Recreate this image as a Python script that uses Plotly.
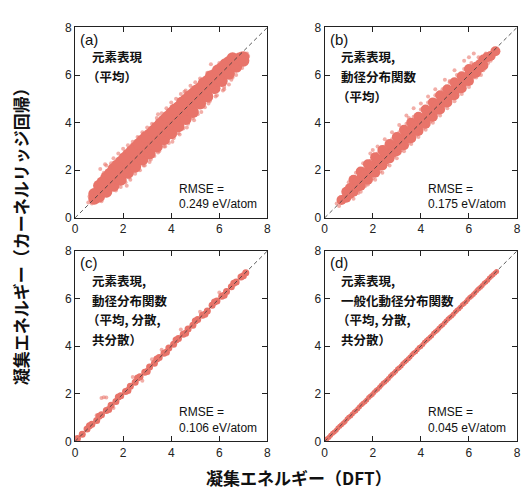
import plotly.graph_objects as go

W, H = 525, 497

# ---------------- data ----------------
# panel (a): element representation (mean)
a_core_x = [0.8, 0.8, 1.0, 1.0, 1.0, 1.3, 1.3, 1.3, 1.6, 1.6, 1.6, 1.9, 1.9, 1.9,
            2.2, 2.2, 2.2, 2.5, 2.5, 2.5, 2.8, 2.8, 2.8, 3.1, 3.1, 3.1, 3.4, 3.4, 3.4,
            3.7, 3.7, 3.7, 4.0, 4.0, 4.0, 4.3, 4.3, 4.3, 4.6, 4.6, 4.6, 4.9, 4.9, 4.9,
            5.2, 5.2, 5.2, 5.5, 5.5, 5.5, 5.8, 5.8, 5.8, 6.1, 6.1, 6.1, 6.4, 6.4, 6.4,
            6.7, 6.7, 7.0, 7.0, 1.15, 1.45, 1.75, 2.05, 2.35, 2.65, 2.95, 3.25, 3.55,
            3.85, 4.15, 4.45, 4.75, 5.05, 5.35, 5.65, 5.95, 6.25, 6.55, 6.85,
            1.15, 1.45, 1.75, 2.05, 2.35, 2.65, 2.95, 3.25, 3.55, 3.85, 4.15, 4.45,
            4.75, 5.05, 5.35, 5.65, 5.95, 6.25, 6.55]
a_core_y = [0.8, 1.0, 0.9, 1.1, 1.35, 1.1, 1.4, 1.7, 1.35, 1.7, 2.05, 1.6, 1.95, 2.35,
            1.9, 2.25, 2.65, 2.15, 2.55, 2.95, 2.45, 2.85, 3.25, 2.7, 3.1, 3.5, 3.0, 3.4, 3.8,
            3.3, 3.7, 4.1, 3.55, 3.95, 4.4, 3.85, 4.25, 4.65, 4.15, 4.55, 4.95, 4.45, 4.85, 5.2,
            4.8, 5.15, 5.45, 5.1, 5.45, 5.75, 5.45, 5.75, 6.0, 5.75, 6.05, 6.3, 6.05, 6.35, 6.55,
            6.35, 6.6, 6.6, 6.75, 1.2, 1.55, 1.85, 2.1, 2.4, 2.7, 3.0, 3.3, 3.6,
            3.9, 4.2, 4.5, 4.8, 5.05, 5.35, 5.65, 5.9, 6.2, 6.45, 6.7,
            1.5, 1.85, 2.2, 2.5, 2.8, 3.1, 3.4, 3.65, 3.95, 4.25, 4.55, 4.85,
            5.1, 5.35, 5.65, 5.95, 6.2, 6.45, 6.7]
a_pts_x = [0.55, 0.6, 0.7, 0.9, 1.0, 1.1, 1.2, 1.3, 1.4, 1.5, 1.6, 1.7, 1.8, 1.9, 2.0, 2.1,
           2.2, 2.3, 2.4, 2.5, 2.6, 2.7, 2.8, 2.9, 3.0, 3.1, 3.2, 3.3, 3.4, 3.5, 3.6, 3.7,
           3.8, 3.9, 4.0, 4.1, 4.2, 4.3, 4.4, 4.5, 4.6, 4.7, 4.8, 4.9, 5.0, 5.1, 5.2, 5.4,
           5.5, 5.6, 5.8, 5.9, 6.0, 6.2, 6.3, 6.5, 6.6, 6.8, 6.9, 7.1, 7.2, 6.4, 6.7, 1.05,
           1.25, 2.15, 3.45, 4.55, 5.65, 6.15,
           0.75, 0.95, 1.2, 1.35, 1.55, 1.65, 1.85, 1.95, 2.15, 2.25, 2.45, 2.55, 2.75, 2.85,
           3.05, 3.15, 3.35, 3.45, 3.65, 3.75, 3.95, 4.05, 4.25, 4.35, 4.55, 4.65, 4.85, 4.95,
           5.15, 5.25, 5.45, 5.55, 5.75, 5.85, 6.05, 6.2, 6.35, 6.55, 6.75, 6.95, 7.15, 7.05]
a_pts_y = [0.65, 0.9, 0.6, 1.3, 1.6, 0.7, 1.9, 2.2, 1.0, 2.3, 2.5, 1.15, 2.7, 1.3, 2.9, 1.5,
           3.05, 1.6, 3.2, 1.85, 3.4, 2.0, 3.6, 2.2, 3.8, 2.35, 3.95, 2.6, 4.2, 2.8, 4.4, 3.0,
           4.6, 3.15, 4.85, 3.35, 5.0, 3.55, 5.2, 3.75, 5.35, 3.95, 5.55, 4.2, 5.7, 4.35, 5.85, 4.65,
           6.1, 4.9, 6.3, 5.15, 6.5, 5.5, 6.65, 5.8, 6.8, 6.2, 6.9, 6.6, 6.8, 5.6, 6.0, 2.05,
           2.25, 1.35, 4.35, 5.3, 6.45, 5.35,
           1.15, 0.7, 1.55, 0.95, 2.0, 1.2, 2.45, 1.5, 2.75, 1.7, 3.0, 2.0, 3.3, 2.2,
           3.6, 2.45, 3.9, 2.75, 4.2, 3.0, 4.55, 3.2, 4.8, 3.5, 5.1, 3.8, 5.4, 4.1,
           5.6, 4.45, 5.9, 4.8, 6.2, 5.1, 6.45, 5.4, 6.6, 5.9, 6.75, 6.3, 6.9, 6.5]

# panel (b): element representation + RDF (mean)
b_core_x = [0.7, 0.9, 0.9, 1.2, 1.2, 1.2, 1.5, 1.5, 1.5, 1.8, 1.8, 1.8, 2.1, 2.1, 2.1,
            2.4, 2.4, 2.4, 2.7, 2.7, 2.7, 3.0, 3.0, 3.0, 3.3, 3.3, 3.3, 3.6, 3.6, 3.6,
            3.9, 3.9, 3.9, 4.2, 4.2, 4.2, 4.5, 4.5, 4.5, 4.8, 4.8, 4.8, 5.1, 5.1, 5.1,
            5.4, 5.4, 5.4, 5.7, 5.7, 5.7, 6.0, 6.0, 6.0, 6.3, 6.3, 6.6, 6.6, 6.9, 7.1,
            1.05, 1.35, 1.65, 1.95, 2.25, 2.55, 2.85, 3.15, 3.45, 3.75, 4.05, 4.35, 4.65,
            4.95, 5.25, 5.55, 5.85, 6.15, 6.45, 6.75,
            1.05, 1.35, 1.65, 1.95, 2.25, 2.55, 2.85, 3.15, 3.45, 3.75, 4.05, 4.35, 4.65,
            4.95, 5.25, 5.55, 5.85, 6.15, 6.45]
b_core_y = [0.75, 0.85, 1.1, 1.1, 1.35, 1.6, 1.35, 1.65, 1.95, 1.6, 1.95, 2.25, 1.9, 2.25, 2.55,
            2.2, 2.5, 2.85, 2.5, 2.8, 3.1, 2.8, 3.1, 3.4, 3.05, 3.4, 3.7, 3.35, 3.7, 4.0,
            3.65, 3.95, 4.25, 3.95, 4.25, 4.55, 4.25, 4.55, 4.85, 4.55, 4.85, 5.15, 4.85, 5.15, 5.4,
            5.15, 5.4, 5.7, 5.45, 5.7, 5.95, 5.75, 6.0, 6.25, 6.1, 6.35, 6.4, 6.65, 6.8, 7.0,
            1.25, 1.5, 1.8, 2.1, 2.4, 2.65, 2.95, 3.25, 3.55, 3.85, 4.1, 4.4, 4.7,
            5.0, 5.3, 5.55, 5.85, 6.1, 6.45, 6.75,
            1.0, 1.3, 1.6, 1.9, 2.2, 2.45, 2.75, 3.05, 3.35, 3.65, 3.95, 4.25, 4.55,
            4.85, 5.15, 5.45, 5.75, 6.05, 6.3]
b_pts_x = [0.5, 0.6, 1.0, 1.3, 1.6, 1.9, 2.2, 2.5, 2.8, 3.1, 3.4, 3.7, 4.0, 4.3, 4.6, 5.0,
           5.4, 5.8, 6.2, 1.2, 1.5, 1.8, 2.1, 2.4, 2.7, 3.0, 3.3, 3.6, 3.9, 4.2, 4.5, 4.8,
           5.1, 5.4, 5.7, 6.0, 6.3, 6.6, 6.9, 7.1, 6.0, 6.5, 7.2, 2.0, 3.5, 5.2,
           0.8, 1.0, 1.3, 1.4, 1.6, 1.7, 1.9, 2.0, 2.2, 2.3, 2.5, 2.6, 2.8, 2.9, 3.1, 3.2,
           3.4, 3.5, 3.7, 3.8, 4.0, 4.1, 4.3, 4.4, 4.6, 4.7, 4.9, 5.0, 5.2, 5.3, 5.5, 5.6,
           5.8, 5.9, 6.1, 6.2, 6.4, 6.5, 6.7, 6.8, 7.0]
b_pts_y = [0.6, 0.5, 1.5, 1.9, 2.3, 2.7, 3.0, 3.3, 3.6, 3.9, 4.3, 4.6, 4.8, 5.1, 5.4, 5.8,
           6.2, 6.6, 6.9, 0.8, 1.1, 1.4, 1.6, 1.9, 2.2, 2.5, 2.8, 3.1, 3.4, 3.7, 4.0, 4.3,
           4.6, 4.9, 5.2, 5.5, 5.9, 6.2, 6.6, 7.1, 6.75, 6.0, 7.0, 2.85, 4.2, 5.75,
           1.1, 0.8, 1.7, 1.05, 2.05, 1.35, 2.4, 1.65, 2.7, 1.95, 3.0, 2.25, 3.3, 2.6, 3.6, 2.85,
           3.95, 3.15, 4.25, 3.45, 4.55, 3.75, 4.85, 4.05, 5.15, 4.4, 5.4, 4.7, 5.7, 5.0, 6.0, 5.3,
           6.25, 5.6, 6.5, 5.9, 6.75, 6.2, 6.9, 6.5, 7.05]

# panel (c): element representation + RDF (mean, variance, covariance)
c_core_x = [0.1, 0.3, 0.5, 0.7, 0.9, 1.1, 1.3, 1.5, 1.7, 1.9, 2.1, 2.3, 2.5, 2.7, 2.9,
            3.1, 3.3, 3.5, 3.7, 3.9, 4.1, 4.3, 4.5, 4.7, 4.9, 5.1, 5.3, 5.5, 5.7, 5.9,
            6.1, 6.3, 6.5, 6.7, 6.9, 7.1, 0.6, 1.0, 1.4, 1.8, 2.2, 2.6, 3.0, 3.4, 3.8,
            4.2, 4.6, 5.0, 5.4, 5.8, 6.2, 6.6, 7.0]
c_core_y = [0.12, 0.3, 0.52, 0.72, 0.88, 1.12, 1.3, 1.52, 1.68, 1.92, 2.1, 2.32, 2.48, 2.72, 2.9,
            3.12, 3.28, 3.52, 3.7, 3.92, 4.08, 4.32, 4.5, 4.72, 4.88, 5.12, 5.3, 5.48, 5.72, 5.9,
            6.1, 6.3, 6.5, 6.7, 6.9, 7.08, 0.66, 1.06, 1.34, 1.86, 2.14, 2.66, 2.94, 3.46, 3.74,
            4.26, 4.54, 5.06, 5.34, 5.86, 6.14, 6.64, 6.96]
c_pts_x = [1.1, 1.2, 1.3, 0.9, 2.4, 3.2, 4.4, 5.2, 6.0, 1.6, 2.8, 3.6]
c_pts_y = [1.82, 1.85, 1.84, 1.1, 2.7, 3.45, 4.7, 5.45, 6.25, 1.4, 2.55, 3.85]

# panel (d): element representation + generalized RDF (mean, variance, covariance)
d_core_x = [0.1, 0.25, 0.4, 0.55, 0.7, 0.85, 1.0, 1.15, 1.3, 1.45, 1.6, 1.75, 1.9, 2.05,
            2.2, 2.35, 2.5, 2.65, 2.8, 2.95, 3.1, 3.25, 3.4, 3.55, 3.7, 3.85, 4.0, 4.15,
            4.3, 4.45, 4.6, 4.75, 4.9, 5.05, 5.2, 5.35, 5.5, 5.65, 5.8, 5.95, 6.1, 6.25,
            6.4, 6.55, 6.7, 6.85, 7.0, 7.15,
            0.18, 0.33, 0.48, 0.63, 0.78, 0.93, 1.08, 1.23, 1.38, 1.53, 1.68, 1.83, 1.98,
            2.13, 2.28, 2.43, 2.58, 2.73, 2.88, 3.03, 3.18, 3.33, 3.48, 3.63, 3.78, 3.93,
            4.08, 4.23, 4.38, 4.53, 4.68, 4.83, 4.98, 5.13, 5.28, 5.43, 5.58, 5.73, 5.88,
            6.03, 6.18, 6.33, 6.48, 6.63, 6.78, 6.93, 7.08]
d_core_y = [0.11, 0.26, 0.39, 0.56, 0.7, 0.84, 1.01, 1.15, 1.29, 1.46, 1.6, 1.74, 1.91, 2.05,
            2.19, 2.36, 2.5, 2.64, 2.81, 2.95, 3.09, 3.26, 3.4, 3.54, 3.71, 3.85, 3.99, 4.16,
            4.3, 4.44, 4.61, 4.75, 4.89, 5.06, 5.2, 5.34, 5.51, 5.65, 5.79, 5.96, 6.1, 6.24,
            6.41, 6.55, 6.69, 6.86, 7.0, 7.14,
            0.17, 0.34, 0.47, 0.64, 0.77, 0.94, 1.07, 1.24, 1.37, 1.54, 1.67, 1.84, 1.97,
            2.14, 2.27, 2.44, 2.57, 2.74, 2.87, 3.04, 3.17, 3.34, 3.47, 3.64, 3.77, 3.94,
            4.07, 4.24, 4.37, 4.54, 4.67, 4.84, 4.97, 5.14, 5.27, 5.44, 5.57, 5.74, 5.87,
            6.04, 6.17, 6.34, 6.47, 6.64, 6.77, 6.94, 7.07]

panel_labels = ["(a)", "(b)", "(c)", "(d)"]
panel_texts = [
    ["元素表現", "（平均）"],
    ["元素表現,", "動径分布関数", "（平均）"],
    ["元素表現,", "動径分布関数", "（平均, 分散,", "共分散）"],
    ["元素表現,", "一般化動径分布関数", "（平均, 分散,", "共分散）"],
]
rmse_values = ["0.249", "0.175", "0.106", "0.045"]
tick_vals = [0, 2, 4, 6, 8]
x_title = "凝集エネルギー（DFT）"
y_title = "凝集エネルギー（カーネルリッジ回帰）"

# ---------------- layout helpers ----------------
def px(x):
    return x / W

def py(y):
    return 1 - y / H

# panel pixel boxes: (left, right, top, bottom)
boxes = [(73, 268, 21, 217), (326, 521, 21, 217), (73, 268, 251, 447), (326, 521, 251, 447)]

CORE = "rgb(232,116,106)"
PTS = "rgba(234,120,110,0.6)"

fig = go.Figure()
data = [
    (a_core_x, a_core_y, a_pts_x, a_pts_y, 12, 4),
    (b_core_x, b_core_y, b_pts_x, b_pts_y, 10, 4),
    (c_core_x, c_core_y, c_pts_x, c_pts_y, 7, 4),
    (d_core_x, d_core_y, [], [], 5, 3),
]

FONT_JP = "Noto Sans CJK JP"
FONT_LAT = "Liberation Sans, Arial, sans-serif"

annotations = []
for i, (cx, cy, sx, sy, csize, ssize) in enumerate(data):
    xa = "x" if i == 0 else f"x{i+1}"
    ya = "y" if i == 0 else f"y{i+1}"
    if sx:
        fig.add_trace(go.Scatter(x=sx, y=sy, mode="markers", xaxis=xa, yaxis=ya,
                                 marker=dict(size=ssize, color=PTS, line=dict(width=0)),
                                 showlegend=False, hoverinfo="skip"))
    fig.add_trace(go.Scatter(x=cx, y=cy, mode="markers", xaxis=xa, yaxis=ya,
                             marker=dict(size=csize, color=CORE, line=dict(width=0)),
                             showlegend=False, hoverinfo="skip"))
    # diagonal dashed reference line
    fig.add_trace(go.Scatter(x=[tick_vals[0], tick_vals[-1]], y=[tick_vals[0], tick_vals[-1]],
                             mode="lines", xaxis=xa, yaxis=ya,
                             line=dict(color="rgba(60,60,60,0.85)", width=1, dash="4px,3px"),
                             showlegend=False, hoverinfo="skip"))
    l, r, t, b = boxes[i]
    axis_common = dict(range=[0, 8], tickvals=tick_vals, ticks="inside", ticklen=5,
                       tickwidth=1, tickcolor="#222", showline=True, linecolor="#222",
                       linewidth=1, mirror="ticks", showgrid=False, zeroline=False,
                       tickfont=dict(family=FONT_LAT, size=12, color="#222"))
    key_x = "xaxis" if i == 0 else f"xaxis{i+1}"
    key_y = "yaxis" if i == 0 else f"yaxis{i+1}"
    fig.update_layout(**{
        key_x: dict(domain=[px(l), px(r)], anchor=ya, **axis_common),
        key_y: dict(domain=[py(b), py(t)], anchor=xa, **axis_common),
    })
    # panel label
    annotations.append(dict(x=px(l + 3), y=py(t + 12), xref="paper", yref="paper",
                            text=panel_labels[i], showarrow=False, xanchor="left",
                            yanchor="middle", font=dict(family=FONT_LAT, size=15, color="#111")))
    # descriptive text lines
    for j, line in enumerate(panel_texts[i]):
        xoff = 15 if not line.startswith("（") else 10
        annotations.append(dict(x=px(l + xoff), y=py(t + 30 + 20.5 * j), xref="paper",
                                yref="paper", text=f"<b>{line}</b>", showarrow=False,
                                xanchor="left", yanchor="middle",
                                font=dict(family=FONT_JP, size=12.5, color="#111")))
    # RMSE text
    annotations.append(dict(x=px(l + 103), y=py(b - 30), xref="paper", yref="paper",
                            text="RMSE =", showarrow=False, xanchor="left", yanchor="middle",
                            font=dict(family=FONT_LAT, size=12, color="#111")))
    annotations.append(dict(x=px(l + 103), y=py(b - 14), xref="paper", yref="paper",
                            text=f"{rmse_values[i]} eV/atom", showarrow=False, xanchor="left",
                            yanchor="middle", font=dict(family=FONT_LAT, size=12, color="#111")))

annotations.append(dict(x=px(300), y=py(484), xref="paper", yref="paper",
                        text=f"<b>{x_title}</b>", showarrow=False, xanchor="center",
                        yanchor="middle", font=dict(family=FONT_JP, size=17, color="#111")))
annotations.append(dict(x=px(18), y=py(232), xref="paper", yref="paper",
                        text=f"<b>{y_title}</b>", showarrow=False, xanchor="center",
                        yanchor="middle", textangle=-90,
                        font=dict(family=FONT_JP, size=17, color="#111")))

fig.update_layout(width=W, height=H, margin=dict(l=0, r=0, t=0, b=0),
                  paper_bgcolor="white", plot_bgcolor="white",
                  annotations=annotations, showlegend=False)

fig.write_html("out.html")
